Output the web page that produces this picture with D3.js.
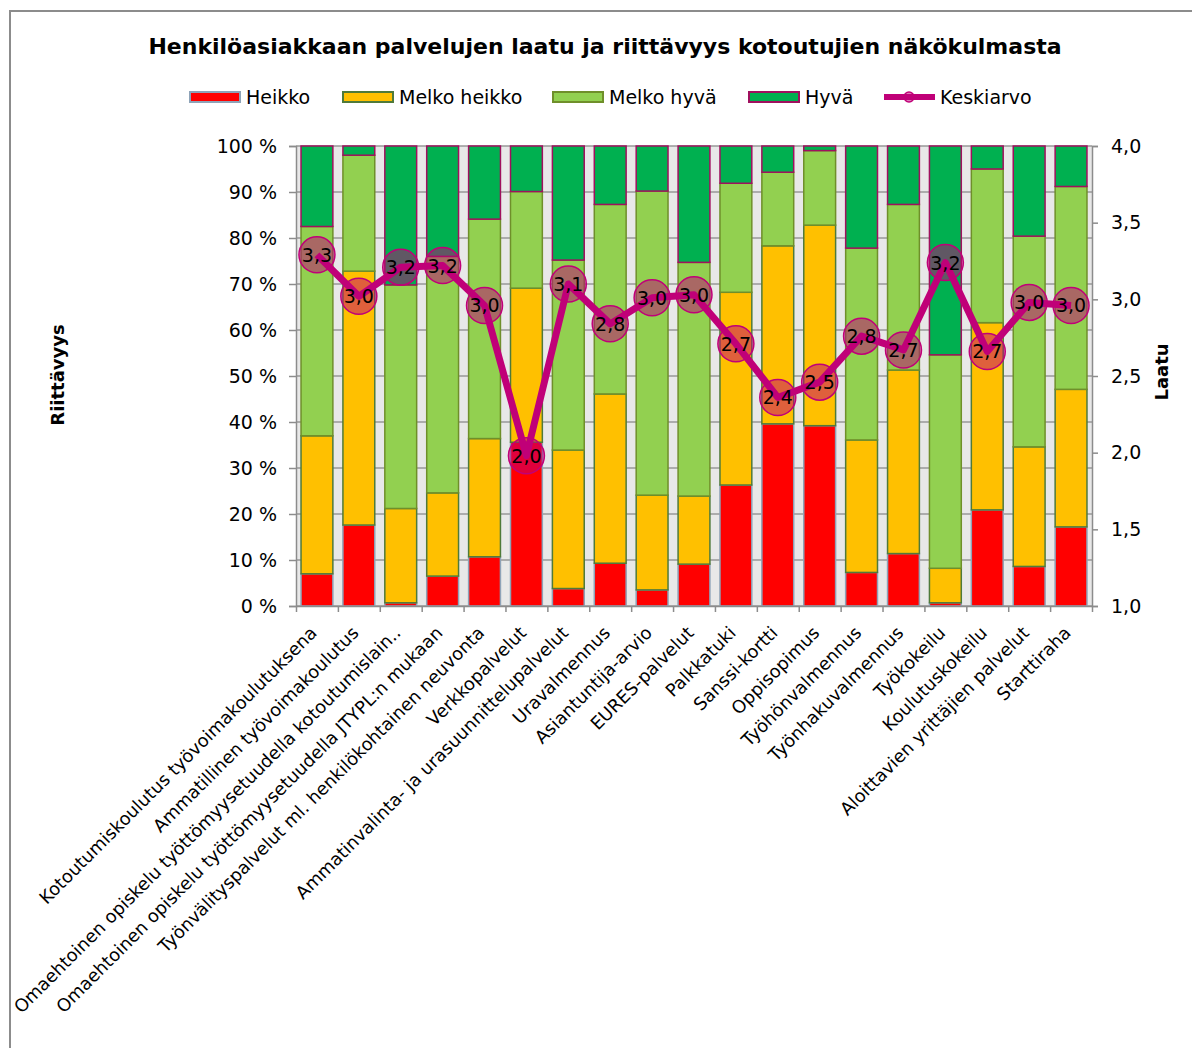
<!DOCTYPE html>
<html>
<head>
<meta charset="utf-8">
<script src="https://cdn.jsdelivr.net/npm/d3@7"></script>
<style>
  body { margin: 0; background: #fff; }
  svg { display: block; font-family: "DejaVu Sans", Verdana, sans-serif; }
</style>
</head>
<body>
<svg id="drawing_region"></svg>
<script>
const categories = [
    "Kotoutumiskoulutus työvoimakoulutuksena",
    "Ammatillinen työvoimakoulutus",
    "Omaehtoinen opiskelu työttömyysetuudella kotoutumislain..",
    "Omaehtoinen opiskelu työttömyysetuudella JTYPL:n mukaan",
    "Työnvälityspalvelut ml. henkilökohtainen neuvonta",
    "Verkkopalvelut",
    "Ammatinvalinta- ja urasuunnittelupalvelut",
    "Uravalmennus",
    "Asiantuntija-arvio",
    "EURES-palvelut",
    "Palkkatuki",
    "Sanssi-kortti",
    "Oppisopimus",
    "Työhönvalmennus",
    "Työnhakuvalmennus",
    "Työkokeilu",
    "Koulutuskokeilu",
    "Aloittavien yrittäjien palvelut",
    "Starttiraha"
];

// shares in percent
const heikko      = [7.0, 17.6, 0.7, 6.5, 10.7, 35.6, 3.8, 9.3, 3.5, 9.1, 26.3, 39.6, 39.2, 7.3, 11.4, 0.7, 20.9, 8.6, 17.2];
const melkoHeikko = [30.0, 55.2, 20.5, 18.1, 25.7, 33.5, 30.1, 36.8, 20.6, 14.8, 41.9, 38.7, 43.6, 28.8, 39.9, 7.5, 40.7, 26.0, 29.9];
const melkoHyva   = [45.5, 25.2, 48.6, 51.4, 47.7, 21.0, 41.3, 41.2, 66.1, 50.8, 23.7, 16.0, 16.2, 41.7, 36.0, 46.4, 33.4, 45.8, 44.1];
const hyva        = [17.5, 2.0, 30.2, 24.0, 15.9, 9.9, 24.8, 12.7, 9.8, 25.3, 8.1, 5.7, 1.0, 22.2, 12.7, 45.4, 5.0, 19.6, 8.8];

// average quality 1..4
const keskiarvo   = [3.29, 3.02, 3.21, 3.22, 2.96, 1.98, 3.10, 2.84, 3.01, 3.03, 2.71, 2.36, 2.46, 2.76, 2.67, 3.24, 2.66, 2.98, 2.96];

const seriesNames = ["Heikko", "Melko heikko", "Melko hyvä", "Hyvä"];
const lineName = "Keskiarvo";
const leftTicks = [0, 10, 20, 30, 40, 50, 60, 70, 80, 90, 100];
const rightTicks = [1.0, 1.5, 2.0, 2.5, 3.0, 3.5, 4.0];

const title = "Henkilöasiakkaan palvelujen laatu ja riittävyys kotoutujien näkökulmasta";
const leftTitle = "Riittävyys";
const rightTitle = "Laatu";

const fills   = ["#ff0000", "#ffc000", "#92d050", "#00b050"];
const borders = ["#8ea3b8", "#4f7a3a", "#6f8f2a", "#a0105e"];
const lineColor = "#c00078";

const width = 1192, height = 1048;
const margin = {top: 146, right: 100, bottom: 442, left: 296};
const inner_width = width - margin.left - margin.right;   // 796
const inner_height = height - margin.top - margin.bottom; // 460

const svg = d3.select('#drawing_region')
    .attr('width', width)
    .attr('height', height);

// outer frame
svg.append('path')
    .attr('d', `M10,${height} L10,11 L${width},11`)
    .attr('fill', 'none')
    .attr('stroke', '#8c8c8c')
    .attr('stroke-width', 2);

svg.append('text')
    .attr('x', 605)
    .attr('y', 54)
    .attr('text-anchor', 'middle')
    .attr('font-size', '22px')
    .attr('font-weight', 'bold')
    .text(title);

const chart = svg.append('g')
    .attr('transform', `translate(${margin.left}, ${margin.top})`);

const xscale = d3.scaleBand()
    .domain(categories)
    .range([0, inner_width])
    .paddingInner(0.24)
    .paddingOuter(0.12);

const xedge = d3.scaleLinear()
    .domain([0, categories.length])
    .range([0, inner_width]);

const yscale = d3.scaleLinear()
    .domain([0, 100])
    .range([inner_height, 0]);

const y2scale = d3.scaleLinear()
    .domain([1, 4])
    .range([inner_height, 0]);

// plot background
chart.append('rect')
    .attr('width', inner_width)
    .attr('height', inner_height)
    .attr('fill', '#e8e8e8');

// grid
chart.append('g')
    .selectAll('line')
    .data(leftTicks)
    .join('line')
    .attr('x1', 0)
    .attr('x2', inner_width)
    .attr('y1', d => yscale(d))
    .attr('y2', d => yscale(d))
    .attr('stroke', '#999')
    .attr('stroke-width', 1.5);

// stacked bars
const table = categories.map((c, i) => ({
    cat: c, heikko: heikko[i], melkoHeikko: melkoHeikko[i], melkoHyva: melkoHyva[i], hyva: hyva[i]
}));
const keys = ["heikko", "melkoHeikko", "melkoHyva", "hyva"];
const stacked = d3.stack().keys(keys)(table);

chart.selectAll('g.layer')
    .data(stacked)
    .join('g')
    .attr('class', 'layer')
    .attr('fill', (d, i) => fills[i])
    .attr('stroke', (d, i) => borders[i])
    .attr('stroke-width', 1.5)
    .selectAll('rect')
    .data(d => d)
    .join('rect')
    .attr('x', d => xscale(d.data.cat))
    .attr('width', xscale.bandwidth())
    .attr('y', d => yscale(d[1]))
    .attr('height', d => yscale(d[0]) - yscale(d[1]));

// axes
const yaxis = d3.axisLeft(yscale)
    .tickValues(leftTicks)
    .tickSize(7)
    .tickPadding(12)
    .tickFormat(d => d + " %");
const y2axis = d3.axisRight(y2scale)
    .tickValues(rightTicks)
    .tickSize(6)
    .tickPadding(13)
    .tickFormat(d => d3.format(".1f")(d).replace(".", ","));
const xaxis = d3.axisBottom(xedge)
    .tickValues(d3.range(categories.length + 1))
    .tickSize(6)
    .tickSizeOuter(0)
    .tickFormat("");

function styleAxis(g) {
    g.selectAll('path, line').attr('stroke', '#8c8c8c').attr('stroke-width', 1.5);
    g.selectAll('text').attr('font-size', '19px').attr('fill', '#000')
        .attr('font-family', '"DejaVu Sans", Verdana, sans-serif');
}

chart.append('g').call(yaxis).call(styleAxis);
chart.append('g').attr('transform', `translate(${inner_width}, 0)`).call(y2axis).call(styleAxis);
chart.append('g').attr('transform', `translate(0, ${inner_height})`).call(xaxis).call(styleAxis);

// x labels
chart.append('g')
    .selectAll('text')
    .data(categories)
    .join('text')
    .attr('transform', d => `translate(${xscale(d) + xscale.bandwidth() / 2 + 1}, ${inner_height + 28}) rotate(-45)`)
    .attr('text-anchor', 'end')
    .attr('font-size', '17.8px')
    .text(d => d);

// average line
const line = d3.line()
    .x((d, i) => xscale(categories[i]) + xscale.bandwidth() / 2)
    .y(d => y2scale(d));

chart.append('path')
    .datum(keskiarvo)
    .attr('d', line)
    .attr('fill', 'none')
    .attr('stroke', lineColor)
    .attr('stroke-width', 7)
    .attr('stroke-linejoin', 'round');

chart.append('g')
    .selectAll('circle')
    .data(keskiarvo)
    .join('circle')
    .attr('cx', (d, i) => xscale(categories[i]) + xscale.bandwidth() / 2)
    .attr('cy', d => y2scale(d))
    .attr('r', 18)
    .attr('fill', lineColor)
    .attr('fill-opacity', 0.5)
    .attr('stroke', lineColor)
    .attr('stroke-width', 1.5);

chart.append('g')
    .selectAll('text')
    .data(keskiarvo)
    .join('text')
    .attr('x', (d, i) => xscale(categories[i]) + xscale.bandwidth() / 2)
    .attr('y', d => y2scale(d) + 7)
    .attr('text-anchor', 'middle')
    .attr('font-size', '19px')
    .text(d => d3.format(".1f")(d).replace(".", ","));

// axis titles
svg.append('text')
    .attr('transform', 'translate(64, 375) rotate(-90)')
    .attr('text-anchor', 'middle')
    .attr('font-size', '18px')
    .attr('font-weight', 'bold')
    .text(leftTitle);

svg.append('text')
    .attr('transform', 'translate(1168, 372) rotate(-90)')
    .attr('text-anchor', 'middle')
    .attr('font-size', '18px')
    .attr('font-weight', 'bold')
    .text(rightTitle);

// legend
const legendX = [190, 343, 553, 749];
const legend = svg.append('g');
seriesNames.forEach((name, i) => {
    legend.append('rect')
        .attr('x', legendX[i])
        .attr('y', 92)
        .attr('width', 50)
        .attr('height', 10)
        .attr('fill', fills[i])
        .attr('stroke', borders[i])
        .attr('stroke-width', 2);
    legend.append('text')
        .attr('x', legendX[i] + 56)
        .attr('y', 104)
        .attr('font-size', '19px')
        .text(name);
});
legend.append('line')
    .attr('x1', 884).attr('x2', 935)
    .attr('y1', 97).attr('y2', 97)
    .attr('stroke', lineColor)
    .attr('stroke-width', 6);
legend.append('circle')
    .attr('cx', 909).attr('cy', 97).attr('r', 5)
    .attr('fill', lineColor).attr('fill-opacity', 0.5)
    .attr('stroke', lineColor).attr('stroke-width', 1.5);
legend.append('text')
    .attr('x', 940)
    .attr('y', 104)
    .attr('font-size', '19px')
    .text(lineName);
</script>
</body>
</html>
